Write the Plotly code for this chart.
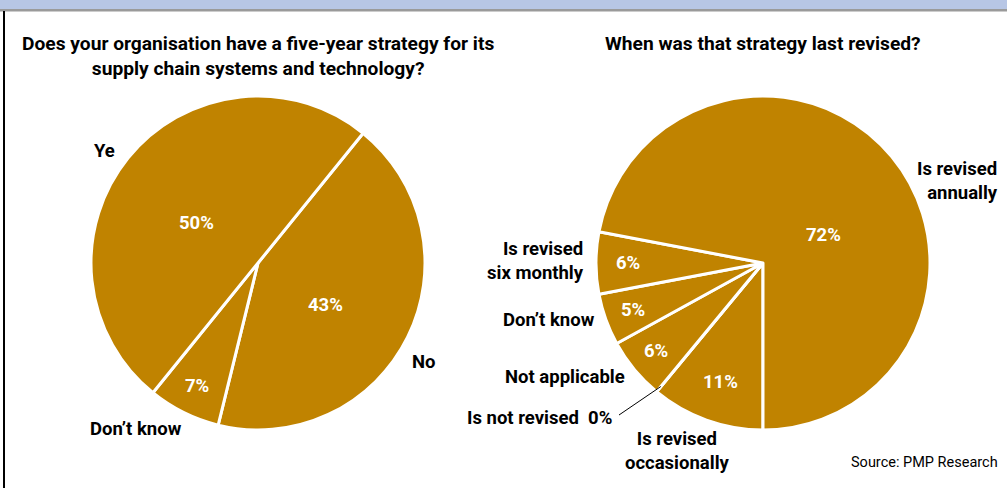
import math
import plotly.graph_objects as go

W, H = 1007, 488

# Left chart: five-year strategy
strategy_labels = ["No", "Don\u2019t know", "Ye"]
strategy_values = [43, 7, 50]

# Right chart: last revision of the strategy
revision_labels = ["Is revised<br>occasionally", "Is not revised", "Not applicable",
                   "Don\u2019t know", "Is revised<br>six monthly", "Is revised<br>annually"]
revision_values = [11, 0, 6, 5, 6, 72]

GOLD = "#C08300"
FONT = "Roboto, Liberation Sans, sans-serif"
SIZE = 18.5
TITLE_SIZE = 19.2

# pie geometry in pixels (centre x, centre y, radius, start angle clockwise from 12 o'clock)
LEFT = dict(cx=258, cy=263, r=167, rot=39)
RIGHT = dict(cx=763, cy=263, r=167, rot=180)


def px(x):
    return x / W


def py(y):
    return 1 - y / H


def domain(g):
    return dict(x=[px(g["cx"] - g["r"]), px(g["cx"] + g["r"])],
                y=[py(g["cy"] + g["r"]), py(g["cy"] - g["r"])])


def mid_angles(values, rot):
    total = sum(values)
    out, start = [], rot
    for v in values:
        span = 360 * v / total
        out.append((start, start + span / 2, start + span))
        start += span
    return out


def polar(g, ang, frac):
    a = math.radians(ang)
    return g["cx"] + g["r"] * frac * math.sin(a), g["cy"] - g["r"] * frac * math.cos(a)


fig = go.Figure()
for g, vals, labs in [(LEFT, strategy_values, strategy_labels),
                      (RIGHT, revision_values, revision_labels)]:
    fig.add_trace(go.Pie(
        values=vals, labels=labs, sort=False, direction="clockwise",
        rotation=g["rot"], domain=domain(g), textinfo="none", hoverinfo="skip",
        marker=dict(colors=[GOLD] * len(vals), line=dict(color="white", width=3)),
        showlegend=False,
    ))

annotations = []
shapes = []

# percentage labels inside the slices (radius fraction, angle nudge)
left_text_pos = [(0.475, 5.5), (0.82, 0), (0.44, -6)]
right_text_pos = [(0.76, 0), None, (0.83, 0), (0.83, 0), (0.81, 0), (0.40, 15)]
for g, vals, pos in [(LEFT, strategy_values, left_text_pos),
                     (RIGHT, revision_values, right_text_pos)]:
    total = sum(vals)
    for (s, m, e), v, p in zip(mid_angles(vals, g["rot"]), vals, pos):
        if p is None:
            continue
        x, y = polar(g, m + p[1], p[0])
        annotations.append(dict(x=px(x), y=py(y), xref="paper", yref="paper",
                                xanchor="center", yanchor="middle",
                                text=f"{round(100 * v / total)}%", showarrow=False,
                                font=dict(family=FONT, size=SIZE, color="white", weight="bold")))


# category labels around the pies
def label(x, y, text, align="center", xanchor="center", size=SIZE, weight="bold"):
    annotations.append(dict(x=px(x), y=py(y), xref="paper", yref="paper", text=text,
                            showarrow=False, align=align, xanchor=xanchor, yanchor="middle",
                            font=dict(family=FONT, size=size, color="black", weight=weight)))


label(92, 151, strategy_labels[2], xanchor="left")
label(410, 362, strategy_labels[0], xanchor="left")
label(88, 429, strategy_labels[1], xanchor="left")

label(1000, 181, revision_labels[5], align="right", xanchor="right")
label(586, 261, revision_labels[4], align="right", xanchor="right")
label(597, 320, revision_labels[3], xanchor="right")
label(627, 377, revision_labels[2], xanchor="right")
label(614, 418, f"{revision_labels[1]}  {revision_values[1]}%", xanchor="right")
label(677, 451, revision_labels[0])
label(1000, 462, "Source: PMP Research", xanchor="right", size=14.5, weight="normal")

# titles
label(258, 56, "Does your organisation have a five-year strategy for its<br>supply chain systems and technology?",
      size=TITLE_SIZE)
label(763, 44, "When was that strategy last revised?", size=TITLE_SIZE)

# leader line to the zero slice
zero_angle = mid_angles(revision_values, RIGHT["rot"])[1][1]
ex, ey = polar(RIGHT, zero_angle, 0.96)
shapes.append(dict(type="line", xref="paper", yref="paper", x0=px(619), y0=py(415),
                   x1=px(ex), y1=py(ey), line=dict(color="black", width=1)))

# header band and frame
shapes.append(dict(type="rect", xref="paper", yref="paper", x0=0, x1=1, y0=py(9), y1=1,
                   fillcolor="#B7C6E5", line=dict(width=0), layer="below"))
shapes.append(dict(type="rect", xref="paper", yref="paper", x0=0, x1=1, y0=py(11.5), y1=py(9),
                   fillcolor="#9A9A9A", line=dict(width=0)))
shapes.append(dict(type="line", xref="paper", yref="paper", x0=px(4), x1=px(4), y0=0, y1=py(11),
                   line=dict(color="black", width=2)))

fig.update_layout(width=W, height=H, margin=dict(l=0, r=0, t=0, b=0),
                  paper_bgcolor="white", plot_bgcolor="white",
                  annotations=annotations, shapes=shapes)
fig.write_html("out.html")
